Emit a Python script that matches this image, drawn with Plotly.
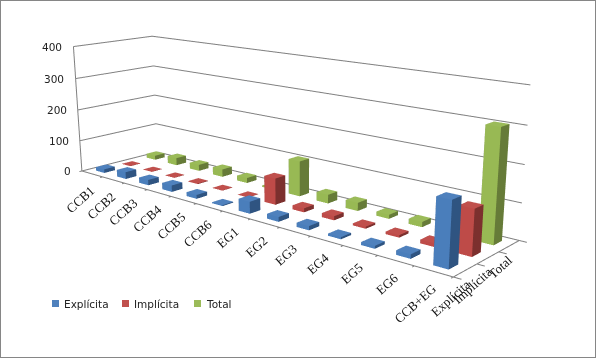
import plotly.graph_objects as go

categories = ["CCB1","CCB2","CCB3","CCB4","CCB5","CCB6","EG1","EG2","EG3","EG4","EG5","EG6","CCB+EG"]
series_names = ["Explícita","Implícita","Total"]
explicita = [12,22,17,20,12,3,35,14,12,6,8,12,171]
implicita = [1,1,1,2,1,1,78,12,12,6,7,10,123]
total =     [14,24,20,24,16,5,106,26,24,12,15,22,304]
values = [explicita, implicita, total]
z_ticks = [0,100,200,300,400]

front = ["#4A7EBB","#BE4B48","#98B954"]
side  = ["#2F5481","#7C302E","#667B38"]
top   = ["#4F81BD","#C0504D","#9BBB59"]
GRID = "#808080"
SANS = "DejaVu Sans"
SERIF = "Liberation Serif"
BAR = 0.4
LW = 2

fig = go.Figure()
nx, ny = len(categories), len(series_names)
mx, my = 1.0, 0.5   # room around the floor so that labels stay inside the axis ranges

def seg(x,y,z):
    fig.add_trace(go.Scatter3d(x=x,y=y,z=z,mode="lines",line=dict(color=GRID,width=LW),hoverinfo="skip",showlegend=False))

for z in z_ticks:
    seg([0,0,nx],[0,ny,ny],[z,z,z])
seg([0,0],[0,0],[0,400])
seg([0,nx,nx],[0,0,ny],[0,0,0])
for i in range(nx+1):
    seg([i,i],[0,-0.09],[0,0])
for j in range(ny+1):
    seg([nx,nx+0.2],[j,j],[0,0])

for s, name in enumerate(series_names):
    X,Y,Z,I,J,K,FC = [],[],[],[],[],[],[]
    for c, v in enumerate(values[s]):
        x0,x1 = c+0.5-BAR/2, c+0.5+BAR/2
        y0,y1 = s+0.5-BAR/2, s+0.5+BAR/2
        b = len(X)
        X += [x0,x1,x1,x0,x0,x1,x1,x0]
        Y += [y0,y0,y1,y1,y0,y0,y1,y1]
        Z += [0,0,0,0,v,v,v,v]
        faces = [((0,1,5),front[s]),((0,5,4),front[s]),
                 ((1,2,6),side[s]),((1,6,5),side[s]),
                 ((4,5,6),top[s]),((4,6,7),top[s]),
                 ((3,7,6),side[s]),((3,6,2),side[s]),
                 ((0,4,7),side[s]),((0,7,3),side[s])]
        for (a,d,e),col in faces:
            I.append(b+a); J.append(b+d); K.append(b+e); FC.append(col)
    fig.add_trace(go.Mesh3d(x=X,y=Y,z=Z,i=I,j=J,k=K,facecolor=FC,flatshading=True,name=name,
        showlegend=False,hoverinfo="skip",
        lighting=dict(ambient=1,diffuse=0,specular=0,roughness=1,fresnel=0)))

ann = []
for z in z_ticks:
    ann.append(dict(x=-0.2,y=0,z=z,text=str(z),showarrow=False,xanchor="right",yanchor="middle",
        xshift=-5,yshift=-1,font=dict(family=SANS,size=10.5,color="#222222")))
for i,c in enumerate(categories):
    ann.append(dict(x=i+0.5,y=-0.14,z=0,text=c,showarrow=False,xanchor="right",yanchor="top",textangle=-42,
        xshift=12,yshift=-5,font=dict(family=SERIF,size=13,color="#111111")))
for j,n in enumerate(series_names):
    ann.append(dict(x=nx+0.25,y=j+0.5,z=0,text=n,showarrow=False,xanchor="right",yanchor="top",textangle=-42,
        yshift=-1,font=dict(family=SERIF,size=13,color="#111111")))

leg_keys = [52,122,194]
shapes = [dict(type="rect",xref="paper",yref="paper",x0=0,x1=1,y0=0,y1=1,line=dict(color="#868686",width=2))]
legend_ann = []
for k,name,col in zip(leg_keys,series_names,top):
    shapes.append(dict(type="rect",xref="paper",yref="paper",x0=k/596,x1=(k+7)/596,y0=1-307/358,y1=1-300/358,
                       fillcolor=col,line=dict(width=0)))
    legend_ann.append(dict(xref="paper",yref="paper",x=(k+9.5)/596,y=1-303.5/358,text=name,showarrow=False,
                           xanchor="left",yanchor="middle",font=dict(family=SANS,size=10.5,color="#222222")))

hidden = dict(visible=False)
fig.update_layout(
    width=596,height=358,margin=dict(l=0,r=0,t=0,b=0),paper_bgcolor="white",
    font=dict(family=SANS,size=10),showlegend=False,shapes=shapes,annotations=legend_ann,
    scene=dict(
        domain=dict(x=[0,1],y=[0,1]),
        xaxis=dict(hidden,range=[-mx,nx+mx]),yaxis=dict(hidden,range=[-my,ny+my]),zaxis=dict(hidden,range=[0,400]),
        aspectmode="manual",aspectratio=dict(x=(nx+2*mx)/nx,y=0.2315*(ny+2*my)/ny,z=0.2901),
        camera=dict(eye=dict(x=1.2297,y=-1.3717,z=0.4412),center=dict(x=0.0548,y=0.0098,z=-0.0876),up=dict(x=0,y=0,z=1),
                    projection=dict(type="perspective")),
        annotations=ann),
)
post = """
document.body.style.margin='0';
var gd=document.querySelector('.plotly-graph-div');
var sc=gd._fullLayout.scene._scene;
if(sc&&sc.glplot){sc.glplot.fovy=2*Math.atan(179/925.6);sc.glplot.redraw&&sc.glplot.redraw();}
"""
fig.write_html("out.html",post_script=post,config=dict(displayModeBar=False))
